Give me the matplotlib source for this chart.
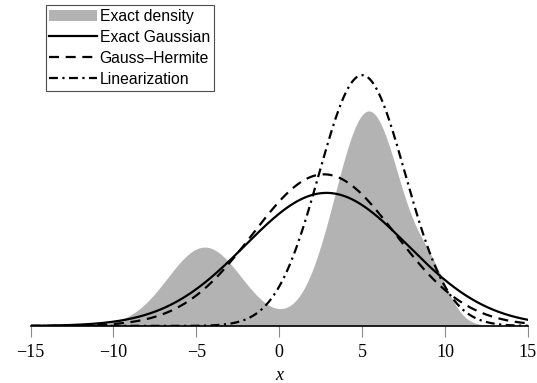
import numpy as np
import matplotlib
matplotlib.use('Agg')
import matplotlib.pyplot as plt

plt.rcParams['font.family'] = 'serif'
plt.rcParams['font.serif'] = ['Liberation Serif', 'DejaVu Serif']

# Exact density: left bump, main right peak, right shoulder
exact_means = [-4.5, 5.4, 9.3]
exact_stds = [2.25, 2.05, 1.0]
exact_weights = [0.272, 0.676, 0.048]

# Gaussian approximations (mean, std)
exact_gauss = (2.85, 4.9)
gauss_hermite = (2.7, 4.3)
linearization = (5.0, 2.6)

xticks = [-15, -10, -5, 0, 5, 10, 15]
labels = ['Exact density', 'Exact Gaussian', 'Gauss\u2013Hermite', 'Linearization']


def npdf(x, m, s):
    return np.exp(-0.5 * ((x - m) / s) ** 2) / (s * np.sqrt(2 * np.pi))


x = np.linspace(-15, 15, 1201)
p_exact = sum(w * npdf(x, m, s) for m, s, w in zip(exact_means, exact_stds, exact_weights))

fig = plt.figure(figsize=(5.37, 3.83), dpi=100)
ax = fig.add_axes([0.057, 0.149, 0.926, 0.838])

ax.fill_between(x, 0, p_exact, color='0.7', lw=0, label=labels[0])
ax.plot(x, npdf(x, *exact_gauss), 'k-', lw=1.6, label=labels[1])
ax.plot(x, npdf(x, *gauss_hermite), 'k', lw=1.6, dashes=(4.5, 3), label=labels[2])
ax.plot(x, npdf(x, *linearization), 'k', lw=1.6, dashes=(4, 2, 1, 2), label=labels[3])

ax.set_xlim(-15, 15)
ax.set_ylim(0, 0.1964)
for side in ['left', 'right', 'top']:
    ax.spines[side].set_visible(False)
ax.spines['bottom'].set_linewidth(1.2)
ax.set_yticks([])
ax.set_xticks(xticks)
ax.set_xticklabels(['\u2212' + str(-t) if t < 0 else str(t) for t in xticks], fontsize=13)
ax.tick_params(axis='x', direction='out', length=8, width=0.8, color='0.55', pad=5)
ax.set_xlabel('x', style='italic', fontsize=13, labelpad=4)

leg = ax.legend(loc='upper left', bbox_to_anchor=(0.030, 1.0),
                prop={'family': 'Liberation Sans', 'size': 11.3},
                frameon=True, fancybox=False, edgecolor='0.3', framealpha=1,
                handlelength=3.0, handletextpad=0.2, labelspacing=0.38, borderpad=0.25,
                borderaxespad=0)
leg.get_frame().set_linewidth(0.8)

fig.savefig('out.png', dpi=100)
